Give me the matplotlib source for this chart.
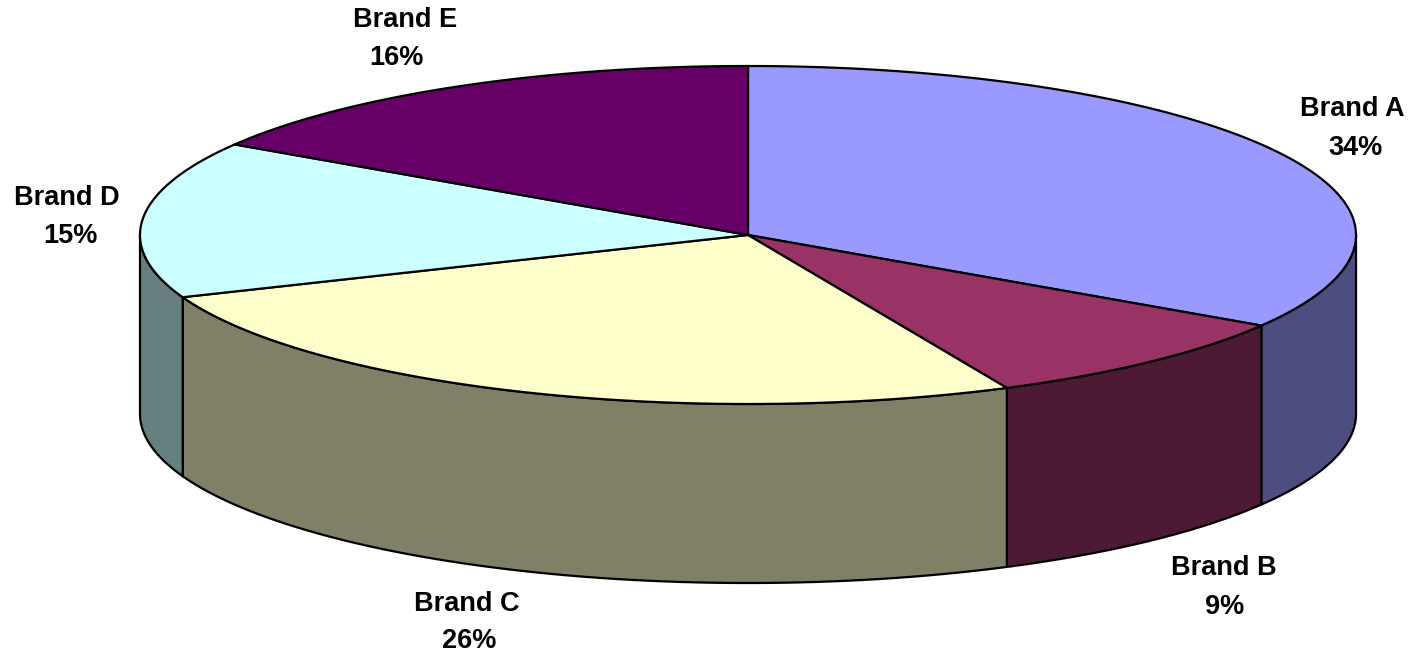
import numpy as np
import matplotlib.pyplot as plt
from matplotlib.patches import Polygon

# data
brands = ['Brand A', 'Brand B', 'Brand C', 'Brand D', 'Brand E']
shares = [34, 9, 26, 15, 16]
top_colors = ['#9999FF', '#993366', '#FFFFCC', '#CCFFFF', '#660066']
side_colors = ['#4D4D80', '#4D1A33', '#808066', '#668080', '#330033']

# label positions (pixel coords): name line, percent line
name_pos = [(1352, 109), (1224, 568), (467, 604), (67, 198), (405, 20)]
pct_pos = [(1355, 148), (1225, 607), (469, 641), (70, 236), (396, 58)]

# pie geometry in pixel units
cx, cy = 748, 235
rx, ry = 608, 169
depth = 179

plt.rcParams['font.family'] = ['Liberation Sans', 'DejaVu Sans']

fig = plt.figure(figsize=(14.12, 6.55), dpi=100)
ax = fig.add_axes([0, 0, 1, 1])
ax.set_xlim(0, 1412)
ax.set_ylim(655, 0)
ax.axis('off')


def arc(a0, a1, dy=0, n=200):
    t = np.radians(np.linspace(a0, a1, n))
    return np.column_stack([cx + rx * np.cos(t), cy - ry * np.sin(t) + dy])


# slice angles, start at top, go clockwise
total = float(sum(shares))
starts = []
ends = []
a = 90.0
for s in shares:
    starts.append(a)
    a = a - s / total * 360.0
    ends.append(a)

# side walls (only the front half, -180..0, is visible)
for i in range(len(shares)):
    lo = max(ends[i], -180.0)
    hi = min(starts[i], 0.0)
    if hi <= lo:
        continue
    top = arc(hi, lo)
    bot = arc(lo, hi, dy=depth)
    pts = np.vstack([top, bot])
    ax.add_patch(Polygon(pts, closed=True, facecolor=side_colors[i],
                         edgecolor='black', linewidth=1.6, joinstyle='round'))

# top faces
for i in range(len(shares)):
    pts = np.vstack([[cx, cy], arc(starts[i], ends[i])])
    ax.add_patch(Polygon(pts, closed=True, facecolor=top_colors[i],
                         edgecolor='black', linewidth=1.6, joinstyle='round'))

# labels
for i in range(len(shares)):
    ax.text(name_pos[i][0], name_pos[i][1], brands[i], fontsize=19.5,
            fontweight='bold', ha='center', va='center')
    ax.text(pct_pos[i][0], pct_pos[i][1], '%d%%' % shares[i], fontsize=19.5,
            fontweight='bold', ha='center', va='center')

plt.savefig('out.png', dpi=100)
